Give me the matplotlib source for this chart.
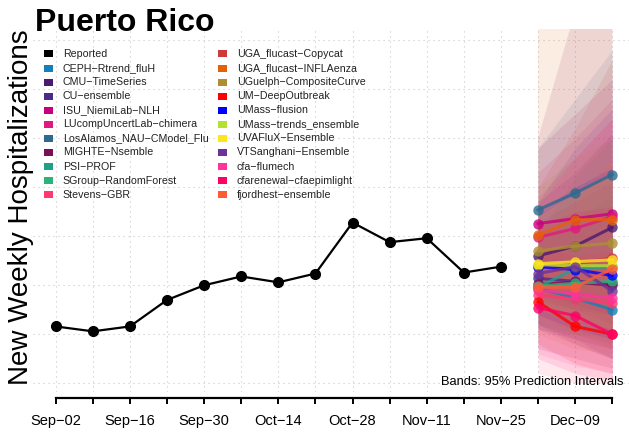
import matplotlib
matplotlib.use("Agg")
import matplotlib.pyplot as plt
import matplotlib.dates as mdates
from matplotlib.patches import Rectangle
import numpy as np
import pandas as pd

plt.rcParams['font.family'] = ['Liberation Sans', 'DejaVu Sans']

title = "Puerto Rico"
ylabel = "New Weekly Hospitalizations"
band_note = "Bands: 95% Prediction Intervals"

# Observed weekly hospitalizations
reported_dates = pd.date_range("2023-09-02", periods=13, freq="7D")
reported_values = [58, 53, 58, 85, 100, 109, 103, 112, 164, 144, 148, 113, 119]

# Forecast target weeks
forecast_dates = pd.date_range("2023-12-02", periods=3, freq="7D")

models = [
    "CEPH\u2212Rtrend_fluH", "CMU\u2212TimeSeries", "CU\u2212ensemble",
    "ISU_NiemiLab\u2212NLH", "LUcompUncertLab\u2212chimera",
    "LosAlamos_NAU\u2212CModel_Flu", "MIGHTE\u2212Nsemble", "PSI\u2212PROF",
    "SGroup\u2212RandomForest", "Stevens\u2212GBR",
    "UGA_flucast\u2212Copycat", "UGA_flucast\u2212INFLAenza",
    "UGuelph\u2212CompositeCurve", "UM\u2212DeepOutbreak", "UMass\u2212flusion",
    "UMass\u2212trends_ensemble", "UVAFluX\u2212Ensemble",
    "VTSanghani\u2212Ensemble", "cfa\u2212flumech",
    "cfarenewal\u2212cfaepimlight", "fjordhest\u2212ensemble",
]
model_colors = [
    "#1380B8", "#4B1A6E", "#4A2C86", "#C8007E", "#E0197E",
    "#2C6A8F", "#7A0F55", "#1FA187", "#2DB37A", "#FF3870",
    "#CC3A3A", "#E56108", "#AD8E33", "#FF0000", "#0000FF",
    "#B5E02E", "#FFE51E", "#6A3399", "#FF3399", "#FF0066", "#FF5A36",
]

# Median forecasts (one row per model, three horizons)
forecast_median = [
    [97, 87, 75], [130, 140, 159], [107, 104, 102], [163, 168, 173],
    [149, 158, 170], [177, 194, 213], [101, 103, 100], [98, 117, 119],
    [99, 102, 104], [90, 86, 82], [120, 122, 128], [151, 167, 167],
    [135, 140, 143], [83, 58, 50], [119, 116, 110], [121, 120, 120],
    [122, 124, 126], [112, 119, 94], [95, 91, 87], [77, 69, 50], [98, 98, 117],
]
# 95% prediction interval bounds
forecast_lower = [
    [55, 40, 25], [85, 75, 70], [60, 45, 35], [95, 80, 70],
    [90, 75, 60], [120, 115, 110], [35, 25, 15], [55, 50, 40],
    [60, 50, 45], [10, 0, 0], [60, 40, 25], [70, 50, 35],
    [75, 60, 50], [40, 20, 10], [70, 55, 45], [75, 60, 50],
    [80, 65, 55], [55, 45, 25], [30, 18, 10], [25, 10, 3], [50, 35, 30],
]
forecast_upper = [
    [150, 160, 170], [185, 215, 255], [165, 185, 205], [240, 275, 310],
    [215, 250, 290], [240, 290, 340], [250, 380, 500], [150, 210, 250],
    [150, 170, 190], [190, 230, 270], [200, 260, 330], [420, 560, 700],
    [200, 230, 250], [140, 130, 135], [175, 200, 220], [175, 195, 215],
    [170, 195, 215], [185, 240, 280], [180, 230, 270], [160, 175, 180],
    [160, 185, 230],
]

tick_dates = pd.date_range("2023-09-02", "2023-12-16", freq="7D")
label_dates = tick_dates[::2]
grid_values = [0, 50, 100, 150, 200, 250, 300, 350]

fig = plt.figure(figsize=(6.29, 4.36), dpi=100)
W, H = 629, 436
ax = fig.add_axes([33 / W, 1 - 392 / H, (W - 33) / W, (392 - 29) / H])

x_first = mdates.date2num(tick_dates[0])
x_last = mdates.date2num(tick_dates[-1])
ax.set_xlim(x_first - 4.28, x_last + 3.15)
ax.set_ylim(-8.9, 361.5)

# grid
for d in tick_dates:
    ax.axvline(d, color="#C8C8C8", lw=0.8, ls=(0, (1, 3.5)), zorder=0)
for g in grid_values:
    ax.axhline(g, color="#C8C8C8", lw=0.8, ls=(0, (1, 3.5)), zorder=0)

fx = mdates.date2num(forecast_dates)
# prediction bands
for col, lo, hi in zip(model_colors, forecast_lower, forecast_upper):
    ax.fill_between(fx, lo, hi, color=col, alpha=0.11, lw=0, zorder=1)

# median forecasts
for col, med in zip(model_colors, forecast_median):
    ax.plot(fx, med, color=col, lw=2.2, alpha=0.8, marker="o",
            markersize=7.5, markeredgewidth=0, zorder=3)

# observations
ax.plot(reported_dates, reported_values, color="black", lw=1.6, marker="o",
        markersize=7, zorder=4)

# axes styling
for s in ["left", "right", "top"]:
    ax.spines[s].set_visible(False)
ax.spines["bottom"].set_position(("outward", 4))
ax.spines["bottom"].set_bounds(x_first, x_last)
ax.spines["bottom"].set_linewidth(1.6)
ax.set_xticks(mdates.date2num(tick_dates))
ax.set_xticklabels([d.strftime("%b-%d").replace("-", "\u2212") if d in label_dates else ""
                    for d in tick_dates])
ax.tick_params(axis="x", length=4, width=1.4, direction="out", pad=8,
               labelsize=10.5, colors="black")
ax.tick_params(axis="y", left=False, labelleft=False)

ax.text(0.99, 0.027, band_note, transform=ax.transAxes, ha="right",
        va="center", fontsize=9.3, zorder=5)

fig.text(35 / W, 1 - 31 / H, title, fontsize=23, fontweight="bold",
         va="baseline", ha="left")
fig.text(21 / W, 1 - 207 / H, ylabel, rotation=90, fontsize=20,
         va="center", ha="center")

# legend in two columns
legend_labels = ["Reported"] + models
legend_colors = ["black"] + model_colors
for i, (lab, col) in enumerate(zip(legend_labels, legend_colors)):
    c, r = divmod(i, 11)
    yc = 54 + 14.07 * r
    sx = 44.3 if c == 0 else 218.3
    tx = 62.7 if c == 0 else 236.7
    fig.add_artist(Rectangle((sx / W, 1 - (yc + 3.5) / H), 8.4 / W, 7 / H,
                             transform=fig.transFigure, color=col, lw=0))
    fig.text(tx / W, 1 - yc / H, lab, fontsize=7.7, va="center", ha="left",
             color="#222222")

fig.savefig("out.png", dpi=100)
